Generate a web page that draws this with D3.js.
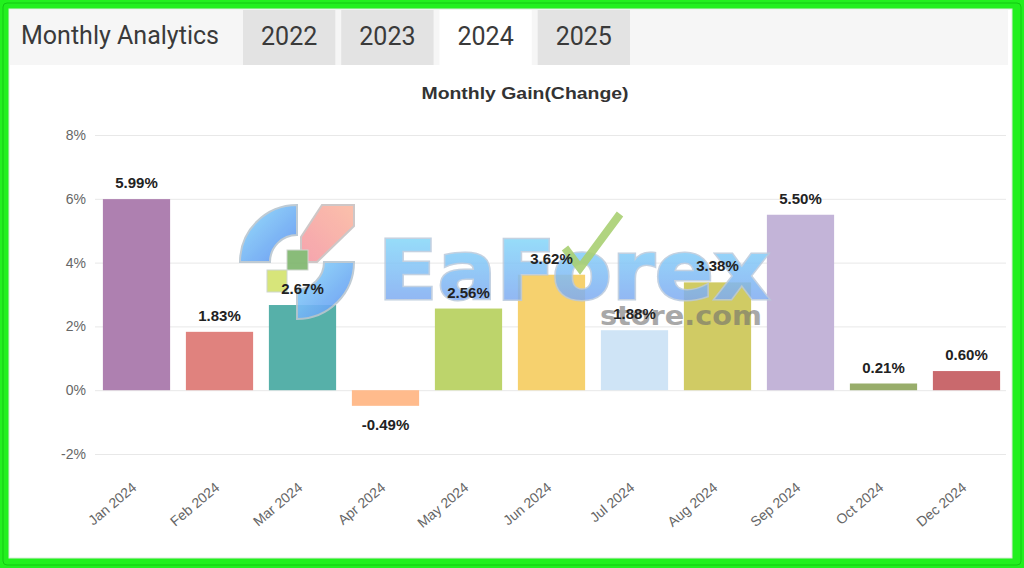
<!DOCTYPE html>
<html>
<head>
<meta charset="utf-8">
<script src="https://cdn.jsdelivr.net/npm/d3@7"></script>
<style>
  html, body { margin: 0; padding: 0; background: #22f01e; }
  svg { display: block; }
</style>
</head>
<body>
<svg id="chart" width="1024" height="568"></svg>
<script>
// Monthly gain per month, in percent
const months = ["Jan 2024", "Feb 2024", "Mar 2024", "Apr 2024", "May 2024", "Jun 2024",
                "Jul 2024", "Aug 2024", "Sep 2024", "Oct 2024", "Dec 2024"];
const gains = [5.99, 1.83, 2.67, -0.49, 2.56, 3.62, 1.88, 3.38, 5.50, 0.21, 0.60];
const barColors = ["#ae80b0", "#e0827e", "#56b0a9", "#ffbb8c", "#bdd46b", "#f6d16e",
                   "#cfe4f6", "#d0cb64", "#c3b4d8", "#98ad6b", "#c9696d"];
const yTicks = [-2, 0, 2, 4, 6, 8];
const tabs = ["2022", "2023", "2024", "2025"];
const activeTab = "2024";

const svg = d3.select("#chart");
const defs = svg.append("defs");

// green frame and white panel
svg.append("rect").attr("x", 0).attr("y", 0).attr("width", 1024).attr("height", 568)
  .attr("rx", 6).attr("fill", "#22f01e");
svg.append("rect").attr("x", 3).attr("y", 3).attr("width", 1018).attr("height", 562)
  .attr("rx", 4).attr("fill", "none").attr("stroke", "#12c812").attr("stroke-width", 1);
svg.append("rect").attr("x", 9).attr("y", 9).attr("width", 1003).attr("height", 549)
  .attr("fill", "#ffffff").attr("stroke", "#d9ead9").attr("stroke-width", 1);

// header bar with year tabs
svg.append("rect").attr("x", 10).attr("y", 10).attr("width", 998).attr("height", 55)
  .attr("fill", "#f6f6f6");
svg.append("text").attr("x", 21).attr("y", 44)
  .attr("font-family", "Roboto, 'Liberation Sans', sans-serif")
  .attr("font-size", 25).attr("fill", "#3a3a3a")
  .attr("textLength", 198).attr("lengthAdjust", "spacingAndGlyphs")
  .text("Monthly Analytics");

const tabX = d3.scaleBand().domain(tabs).range([243, 630]).paddingInner(0.06);
const tabG = svg.append("g").selectAll("g").data(tabs).join("g");
tabG.append("rect")
  .attr("x", d => tabX(d)).attr("y", 10)
  .attr("width", tabX.bandwidth()).attr("height", 55)
  .attr("fill", d => d === activeTab ? "#ffffff" : "#e3e3e3");
tabG.append("text")
  .attr("x", d => tabX(d) + tabX.bandwidth() / 2).attr("y", 45)
  .attr("text-anchor", "middle")
  .attr("font-family", "Roboto, 'Liberation Sans', sans-serif")
  .attr("font-size", 25).attr("fill", "#3a3a3a")
  .text(d => d);

// chart title
svg.append("text").attr("x", 525).attr("y", 99)
  .attr("text-anchor", "middle")
  .attr("font-family", "'Liberation Sans', Arial, sans-serif")
  .attr("font-size", 17).attr("font-weight", "bold").attr("fill", "#333")
  .attr("textLength", 207).attr("lengthAdjust", "spacingAndGlyphs")
  .text("Monthly Gain(Change)");

// scales
const x = d3.scaleBand().domain(months).range([95, 1008]).paddingInner(0.19).paddingOuter(0.095);
const y = d3.scaleLinear().domain([-2, 8]).range([454, 135]);

// gridlines and y labels
const yAxis = d3.axisLeft(y).tickValues(yTicks).tickFormat(d => d + "%")
  .tickSize(-(1006 - 95)).tickPadding(9);
const gy = svg.append("g").attr("transform", "translate(95,0)").call(yAxis);
gy.select(".domain").remove();
gy.selectAll(".tick line").attr("stroke", "#e8e8e8").attr("stroke-width", 1);
gy.selectAll(".tick text")
  .attr("font-family", "'Liberation Sans', Arial, sans-serif")
  .attr("font-size", 14).attr("fill", "#666");

// bars
svg.append("g").selectAll("rect").data(months).join("rect")
  .attr("x", d => x(d))
  .attr("width", x.bandwidth())
  .attr("y", (d, i) => y(Math.max(0, gains[i])))
  .attr("height", (d, i) => Math.abs(y(gains[i]) - y(0)))
  .attr("fill", (d, i) => barColors[i]);

// watermark: logo mark, word mark and domain
const wm = svg.append("g").attr("pointer-events", "none");
const blueGrad = defs.append("linearGradient").attr("id", "wmBlue")
  .attr("x1", 0).attr("y1", 0).attr("x2", 1).attr("y2", 1);
blueGrad.append("stop").attr("offset", "0%").attr("stop-color", "#8fdcfb");
blueGrad.append("stop").attr("offset", "100%").attr("stop-color", "#5b8ff0");
const pinkGrad = defs.append("linearGradient").attr("id", "wmPink")
  .attr("x1", 0).attr("y1", 1).attr("x2", 1).attr("y2", 0);
pinkGrad.append("stop").attr("offset", "0%").attr("stop-color", "#f59aa6");
pinkGrad.append("stop").attr("offset", "100%").attr("stop-color", "#fbbaa2");
const textGrad = defs.append("linearGradient").attr("id", "wmGrad")
  .attr("x1", 0).attr("y1", 0).attr("x2", 0).attr("y2", 1);
textGrad.append("stop").attr("offset", "0%").attr("stop-color", "#86e2fb");
textGrad.append("stop").attr("offset", "100%").attr("stop-color", "#7d9ef0");

const logo = wm.append("g").attr("transform", "translate(297,262)").attr("opacity", 0.9);
const ring = d3.arc().innerRadius(27).outerRadius(57);
logo.append("path")
  .attr("d", ring({ startAngle: -Math.PI / 2, endAngle: 0 }))
  .attr("fill", "url(#wmBlue)").attr("stroke", "#b9c6d0").attr("stroke-width", 2);
logo.append("path")
  .attr("d", ring({ startAngle: Math.PI / 2, endAngle: Math.PI }))
  .attr("fill", "url(#wmBlue)").attr("stroke", "#b9c6d0").attr("stroke-width", 2);
logo.append("path")
  .attr("d", "M25,-57 L57,-57 L57,-36 L20,0 L4,0 L4,-25 Z")
  .attr("fill", "url(#pinkGrad)").attr("fill", "url(#wmPink)")
  .attr("stroke", "#c9c2c2").attr("stroke-width", 2);
logo.append("rect").attr("x", -10).attr("y", -12).attr("width", 21).attr("height", 20)
  .attr("fill", "#7db56b").attr("stroke", "#c9d2c9").attr("stroke-width", 1);
logo.append("rect").attr("x", -30).attr("y", 8).attr("width", 20).attr("height", 22)
  .attr("fill", "#d3e36c").attr("stroke", "#c9d2c9").attr("stroke-width", 1);

wm.append("text").attr("x", 378).attr("y", 299)
  .attr("font-family", "'DejaVu Sans', sans-serif").attr("font-weight", "bold")
  .attr("font-size", 82).attr("textLength", 392).attr("lengthAdjust", "spacingAndGlyphs")
  .attr("fill", "url(#wmGrad)").attr("stroke", "#b9c9dc").attr("stroke-width", 3)
  .attr("paint-order", "stroke").attr("opacity", 0.85)
  .text("EaForex");
wm.append("path")
  .attr("d", "M565,248 L580,268 L620,214")
  .attr("fill", "none").attr("stroke", "#a9cf72").attr("stroke-width", 8)
  .attr("stroke-linejoin", "miter").attr("opacity", 0.9);
wm.append("text").attr("x", 600).attr("y", 325)
  .attr("font-family", "'DejaVu Sans', sans-serif").attr("font-weight", "bold")
  .attr("font-size", 26).attr("textLength", 162).attr("lengthAdjust", "spacingAndGlyphs")
  .attr("fill", "#6f6f6f").attr("opacity", 0.6)
  .text("store.com");

// value labels
svg.append("g").selectAll("text").data(months).join("text")
  .attr("x", d => x(d) + x.bandwidth() / 2)
  .attr("y", (d, i) => gains[i] >= 0 ? y(gains[i]) - 11 : y(gains[i]) + 24)
  .attr("text-anchor", "middle")
  .attr("font-family", "'Liberation Sans', Arial, sans-serif")
  .attr("font-size", 15).attr("font-weight", "bold").attr("fill", "#222")
  .text((d, i) => gains[i].toFixed(2) + "%");

// x labels
svg.append("g").selectAll("text").data(months).join("text")
  .attr("transform", d => `translate(${x(d) + x.bandwidth() / 2 + 1},489) rotate(-40)`)
  .attr("text-anchor", "end")
  .attr("font-family", "'Liberation Sans', Arial, sans-serif")
  .attr("font-size", 14).attr("fill", "#666")
  .text(d => d);
</script>
</body>
</html>
